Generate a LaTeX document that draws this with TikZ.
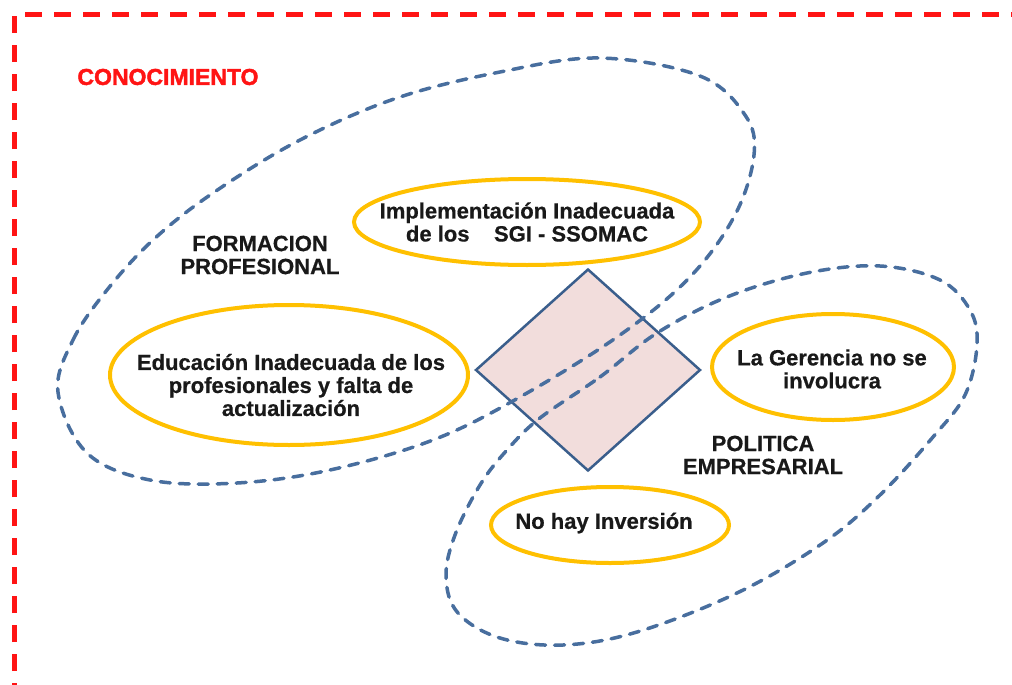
\documentclass[tikz,border=0pt]{standalone}
\usepackage{fontspec}
\setmainfont{Liberation Sans}[BoldFeatures={FakeBold=0.6}]
\usetikzlibrary{shapes.geometric}
\definecolor{framered}{RGB}{255,20,20}
\definecolor{dashblue}{RGB}{72,110,158}
\definecolor{goldline}{RGB}{255,192,0}
\definecolor{diafill}{RGB}{242,221,220}
\definecolor{diaborder}{RGB}{58,94,140}
\definecolor{txt}{RGB}{25,25,25}
\newfontfamily\heavyfont{Liberation Sans Bold}[FakeBold=1.8]
\begin{document}
\begin{tikzpicture}[x=1pt,y=-1pt,
  frameline/.style={draw=framered, line width=5pt, dash pattern=on 17pt off 12pt, line join=miter},
  zone/.style={draw=dashblue, line width=3.5pt, dash pattern=on 10pt off 9pt, line cap=round},
  goldring/.style={draw=goldline, line width=4pt},
  causetext/.style={align=center, text=txt, inner sep=0pt,
    font=\fontsize{22}{23}\selectfont\bfseries},
  zonetext/.style={align=center, text=txt, font=\fontsize{22}{23}\selectfont\bfseries},
  core/.style={diamond, draw=diaborder, fill=diafill, line width=2.5pt, inner sep=0pt,
    minimum width=225pt, minimum height=202pt}
]
\useasboundingbox (0,0) rectangle (1012,685);
\fill[white] (0,0) rectangle (1012,685);
% outer frame
\draw[frameline] (14,700) -- (14,15) -- (1040,15);
\node[text=framered, font=\fontsize{23}{25}\selectfont\heavyfont] (conoc) at (168,77) {CONOCIMIENTO};
% central diamond
\node[core] (centro) at (588,370) {};
% zone 1: formacion profesional
\draw[zone] plot[smooth cycle, tension=0.6] coordinates {
  (58,392) (73,340) (107,290) (153,240) (213,193) (300,140) (397,98) (500,72)
  (600,58) (700,76) (745,115) (754,155) (735,215) (690,277) (620,335) (520,397)
  (433,440) (330,470) (237,483) (150,480) (87,453)};
% zone 2: politica empresarial
\draw[zone] plot[smooth cycle, tension=0.6] coordinates {
  (540,418) (600,377) (657,333) (727,297) (807,273) (880,266) (940,280) (970,310)
  (977,345) (965,395) (933,437) (880,495) (823,543) (737,593) (637,632) (563,645)
  (500,638) (458,613) (446,577) (455,535) (480,485) (507,450)};
% cause texts and their rings
\node[causetext] (impl) at (527,222)
  {Implementación Inadecuada\\de los\ \ \ \ SGI - SSOMAC};
\draw[goldring] (impl.center) ellipse [x radius=173pt, y radius=43pt];
\node[causetext] (educ) at (291,385)
  {Educación Inadecuada de los\\profesionales y falta de\\actualización};
\draw[goldring] (289,375) ellipse [x radius=179pt, y radius=70pt];
\node[causetext] (gere) at (832,369)
  {La Gerencia no se\\involucra};
\draw[goldring] (833,367) ellipse [x radius=121pt, y radius=53pt];
\node[causetext] (inver) at (604,523)
  {No hay Inversión};
\draw[goldring] (610,525) ellipse [x radius=119pt, y radius=38pt];
% zone labels
\node[zonetext] (formac) at (260,255) {FORMACION\\PROFESIONAL};
\node[zonetext] (polit) at (763,455) {POLITICA\\EMPRESARIAL};
\end{tikzpicture}
\end{document}
